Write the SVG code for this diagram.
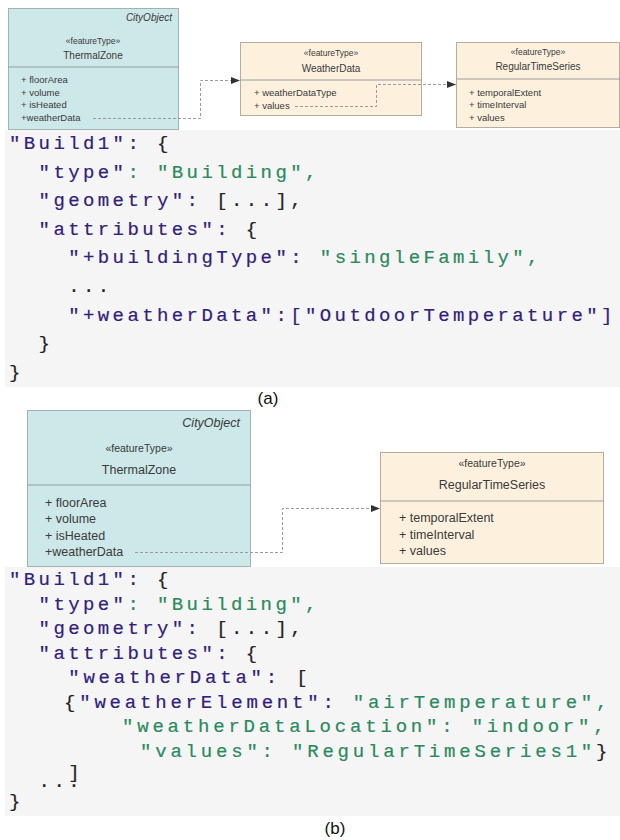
<svg xmlns="http://www.w3.org/2000/svg" width="620" height="840" viewBox="0 0 620 840">
<defs>
<style>
.teal{fill:#cde8e8;stroke:#9fb3b3;stroke-width:1}
.cream{fill:#fdf1de;stroke:#b5ad9f;stroke-width:1}
.div{stroke:#9a9a9a;stroke-width:1}
.t{font-family:"Liberation Sans",Arial,sans-serif;fill:#3a3a3a}
.it{font-style:italic}
.mid{text-anchor:middle}
.end{text-anchor:end}
.conn{fill:none;stroke:#9a9a9a;stroke-width:1;stroke-dasharray:3 2}
.bg{fill:#f5f5f5}
.code{font-family:"Liberation Mono","DejaVu Sans Mono",monospace;font-size:19px;letter-spacing:3.4px;fill:#222;stroke:#222;stroke-width:0.2}
.wide{letter-spacing:3.8px}
.k{fill:#31207c;stroke:#31207c}
.s{fill:#2a8a5c;stroke:#2a8a5c}
.cap{font-family:"Liberation Sans",Arial,sans-serif;font-size:17px;fill:#111;text-anchor:middle}
</style>
<marker id="arr" markerWidth="10" markerHeight="8" refX="9" refY="4" orient="auto" markerUnits="userSpaceOnUse">
<path d="M0,0.5 L9,4 L0,7.5 Z" fill="#333"/>
</marker>
</defs>
<rect width="620" height="840" fill="#ffffff"/>

<!-- Panel (a) -->
<g id="a-thermalzone">
<rect class="teal" x="8.5" y="8.5" width="170" height="121"/>
<line class="div" x1="8.5" y1="67" x2="178.5" y2="67"/>
<text class="t it end" x="172" y="21" font-size="10">CityObject</text>
<text class="t mid" x="93" y="43.5" font-size="8.5">«featureType»</text>
<text class="t mid" x="93" y="59" font-size="10">ThermalZone</text>
<text class="t" x="21" y="83" font-size="9.5">+ floorArea</text>
<text class="t" x="21" y="95.5" font-size="9.5">+ volume</text>
<text class="t" x="21" y="108" font-size="9.5">+ isHeated</text>
<text class="t" x="21" y="120.5" font-size="9.5">+weatherData</text>
</g>
<g id="a-weatherdata">
<rect class="cream" x="240.5" y="42.5" width="181" height="73"/>
<line class="div" x1="240.5" y1="80" x2="421.5" y2="80"/>
<text class="t mid" x="331" y="55.5" font-size="8.5">«featureType»</text>
<text class="t mid" x="331" y="71.5" font-size="10">WeatherData</text>
<text class="t" x="254" y="96" font-size="9.5">+ weatherDataType</text>
<text class="t" x="254" y="109" font-size="9.5">+ values</text>
</g>
<g id="a-regulartimeseries">
<rect class="cream" x="456.5" y="42.5" width="163" height="85"/>
<line class="div" x1="456.5" y1="79" x2="619.5" y2="79"/>
<text class="t mid" x="538" y="54.5" font-size="8.5">«featureType»</text>
<text class="t mid" x="538" y="70" font-size="10">RegularTimeSeries</text>
<text class="t" x="469" y="95.5" font-size="9.5">+ temporalExtent</text>
<text class="t" x="469" y="108" font-size="9.5">+ timeInterval</text>
<text class="t" x="469" y="121" font-size="9.5">+ values</text>
</g>

<!-- Panel (b) -->
<g id="b-thermalzone">
<rect class="teal" x="27.5" y="410.5" width="223" height="156"/>
<line class="div" x1="27.5" y1="485" x2="250.5" y2="485"/>
<text class="t it end" x="240" y="426.5" font-size="12.5">CityObject</text>
<text class="t mid" x="139" y="452" font-size="10.5">«featureType»</text>
<text class="t mid" x="139" y="474" font-size="12.5">ThermalZone</text>
<text class="t" x="45" y="507" font-size="12.5">+ floorArea</text>
<text class="t" x="45" y="523.3" font-size="12.5">+ volume</text>
<text class="t" x="45" y="539.6" font-size="12.5">+ isHeated</text>
<text class="t" x="45" y="556" font-size="12.5">+weatherData</text>
</g>
<g id="b-regulartimeseries">
<rect class="cream" x="380.5" y="452.5" width="223" height="111"/>
<line class="div" x1="380.5" y1="501" x2="603.5" y2="501"/>
<text class="t mid" x="492" y="466.5" font-size="10.5">«featureType»</text>
<text class="t mid" x="492" y="489" font-size="12.5">RegularTimeSeries</text>
<text class="t" x="399" y="522.3" font-size="12.5">+ temporalExtent</text>
<text class="t" x="399" y="538.5" font-size="12.5">+ timeInterval</text>
<text class="t" x="399" y="555" font-size="12.5">+ values</text>
</g>

<g id="connectors">
<path class="conn" d="M93,118.5 H200.5 V80.5 H240" marker-end="url(#arr)"/>
<path class="conn" d="M295,106.5 H376.5 V84.5 H456" marker-end="url(#arr)"/>
<path class="conn" d="M135,552.5 H282.5 V508.5 H380" marker-end="url(#arr)"/>
</g>

<!-- Code (a) -->
<g id="code-a">
<rect class="bg" x="5" y="130" width="615" height="257"/>
<text class="code" xml:space="preserve">
<tspan x="9" y="149"><tspan class="k">"Build1":</tspan> {</tspan>
<tspan x="38.6" y="177.6"><tspan class="k">"type"</tspan><tspan class="s">: "Building",</tspan></tspan>
<tspan x="38.6" y="206.2"><tspan class="k">"geometry":</tspan> [...],</tspan>
<tspan x="38.6" y="234.8"><tspan class="k">"attributes":</tspan> {</tspan>
<tspan x="68.2" y="263.4"><tspan class="k">"+buildingType":</tspan> <tspan class="s">"singleFamily",</tspan></tspan>
<tspan x="68.2" y="292">...</tspan>
<tspan x="68.2" y="320.6"><tspan class="k">"+weatherData":["OutdoorTemperature"]</tspan></tspan>
<tspan x="38.6" y="349.2">}</tspan>
<tspan x="9" y="377.8">}</tspan>
</text>
</g>
<text class="cap" x="268" y="404">(a)</text>

<!-- Code (b) -->
<g id="code-b">
<rect class="bg" x="5" y="567" width="615" height="249"/>
<text class="code" xml:space="preserve">
<tspan x="9" y="585"><tspan class="k">"Build1":</tspan> {</tspan>
<tspan x="38.6" y="609.5"><tspan class="k">"type"</tspan><tspan class="s">: "Building",</tspan></tspan>
<tspan x="38.6" y="634"><tspan class="k">"geometry":</tspan> [...],</tspan>
<tspan x="38.6" y="658.5"><tspan class="k">"attributes":</tspan> {</tspan>
</text>
<text class="code wide" xml:space="preserve">
<tspan x="68.2" y="683"><tspan class="k">"weatherData":</tspan> [</tspan>
<tspan x="64" y="707.5">{<tspan class="k">"weatherElement":</tspan> <tspan class="s">"airTemperature",</tspan></tspan>
<tspan x="122" y="732"><tspan class="s">"weatherDataLocation": "indoor",</tspan></tspan>
<tspan x="140" y="756.5"><tspan class="s">"values": "RegularTimeSeries1"</tspan>}</tspan>
</text>
<text class="code" xml:space="preserve">
<tspan x="68.2" y="778">]</tspan>
<tspan x="38.6" y="787">...</tspan>
<tspan x="9" y="807">}</tspan>
</text>
</g>
<text class="cap" x="335" y="834">(b)</text>
</svg>
